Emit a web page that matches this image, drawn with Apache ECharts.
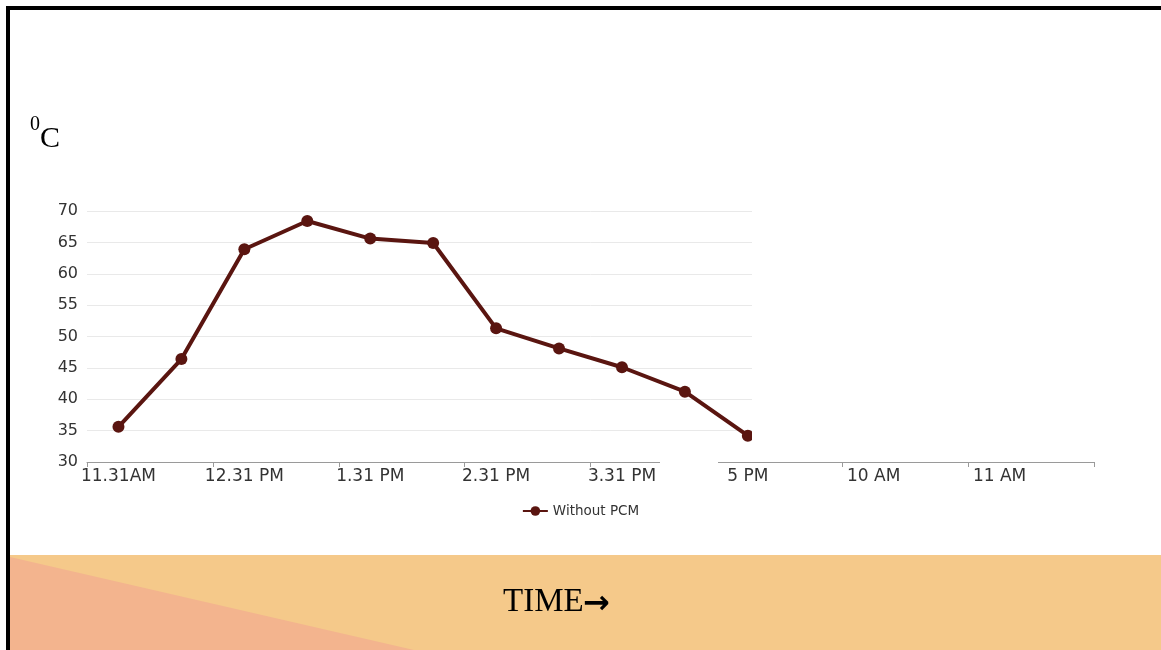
<!DOCTYPE html>
<html>
<head>
<meta charset="utf-8">
<style>
  html, body { margin: 0; padding: 0; background: #ffffff; }
  #chart { width: 1161px; height: 650px; }
</style>
<script src="https://cdn.jsdelivr.net/npm/echarts@6/dist/echarts.min.js"></script>
</head>
<body>
<div id="chart"></div>
<script>
// Category slots on the time axis (labels shown on every second slot)
var categories = ["11.31AM", "", "12.31 PM", "", "1.31 PM", "", "2.31 PM", "", "3.31 PM", "", "5 PM", "", "10 AM", "", "11 AM", ""];
// Temperature readings (°C), without PCM
var withoutPCM = [35.6, 46.4, 63.9, 68.4, 65.6, 64.9, 51.3, 48.1, 45.1, 41.2, 34.2];
var seriesName = "Without PCM";
var yMin = 30, yMax = 70, yStep = 5;

var chart = echarts.init(document.getElementById('chart'), null, { renderer: 'canvas' });

var option = {
  backgroundColor: '#ffffff',
  animation: false,
  grid: { left: 87, right: 67, top: 211, bottom: 188, containLabel: false },
  legend: {
    data: [seriesName],
    left: 'center',
    top: 499,
    itemWidth: 25,
    itemHeight: 12,
    itemGap: 10,
    textStyle: { fontFamily: 'DejaVu Sans', fontSize: 13.5, color: '#333333' }
  },
  xAxis: {
    type: 'category',
    data: categories,
    boundaryGap: true,
    axisLine: { show: true, lineStyle: { color: '#9a9a9a', width: 1 } },
    axisTick: { show: true, interval: 1, length: 5, lineStyle: { color: '#9a9a9a' } },
    axisLabel: { interval: 1, margin: 6, fontFamily: 'DejaVu Sans', fontSize: 17, color: '#333333' },
    splitLine: { show: false }
  },
  yAxis: {
    type: 'value',
    min: yMin,
    max: yMax,
    interval: yStep,
    axisLine: { show: false },
    axisTick: { show: false },
    axisLabel: { margin: 9, fontFamily: 'DejaVu Sans', fontSize: 16, color: '#333333' },
    splitLine: { show: true, lineStyle: { color: '#e9e9e9', width: 1 } }
  },
  series: [{
    name: seriesName,
    type: 'line',
    data: withoutPCM,
    symbol: 'circle',
    symbolSize: 12,
    lineStyle: { color: '#5a1510', width: 4 },
    itemStyle: { color: '#5a1510' },
    z: 2
  }],
  graphic: [
    // slide border
    { type: 'rect', shape: { x: 6, y: 6, width: 1160, height: 4 }, style: { fill: '#000000' }, z: 200 },
    { type: 'rect', shape: { x: 6, y: 6, width: 4, height: 650 }, style: { fill: '#000000' }, z: 200 },
    // bottom decorative band
    { type: 'rect', shape: { x: 10, y: 555, width: 1151, height: 95 }, style: { fill: '#f5c98a' }, z: 50 },
    { type: 'polygon', shape: { points: [[10, 557], [10, 650], [414, 650]] }, style: { fill: '#f3b48e' }, z: 51 },
    // white covers over the chart picture (cropped region and axis gap)
    { type: 'rect', shape: { x: 752, y: 195, width: 409, height: 262 }, style: { fill: '#ffffff' }, z: 100 },
    { type: 'rect', shape: { x: 660, y: 456, width: 58, height: 12 }, style: { fill: '#ffffff' }, z: 100 },
    // unit label
    { type: 'text', z: 120, style: { text: '0', x: 30, y: 125, font: '20px "Liberation Serif"', fill: '#000000', textAlign: 'left', textVerticalAlign: 'middle' } },
    { type: 'text', z: 120, style: { text: 'C', x: 40, y: 139, font: '30px "Liberation Serif"', fill: '#000000', textAlign: 'left', textVerticalAlign: 'middle' } },
    // axis title
    { type: 'text', z: 120, style: { text: 'TIME', x: 503, y: 602, font: '33px "Liberation Serif"', fill: '#000000', textAlign: 'left', textVerticalAlign: 'middle' } },
    { type: 'text', z: 120, style: { text: '→', x: 583, y: 605, font: 'bold 32px "DejaVu Sans"', fill: '#000000', textAlign: 'left', textVerticalAlign: 'middle' } }
  ]
};

chart.setOption(option);
</script>
</body>
</html>
